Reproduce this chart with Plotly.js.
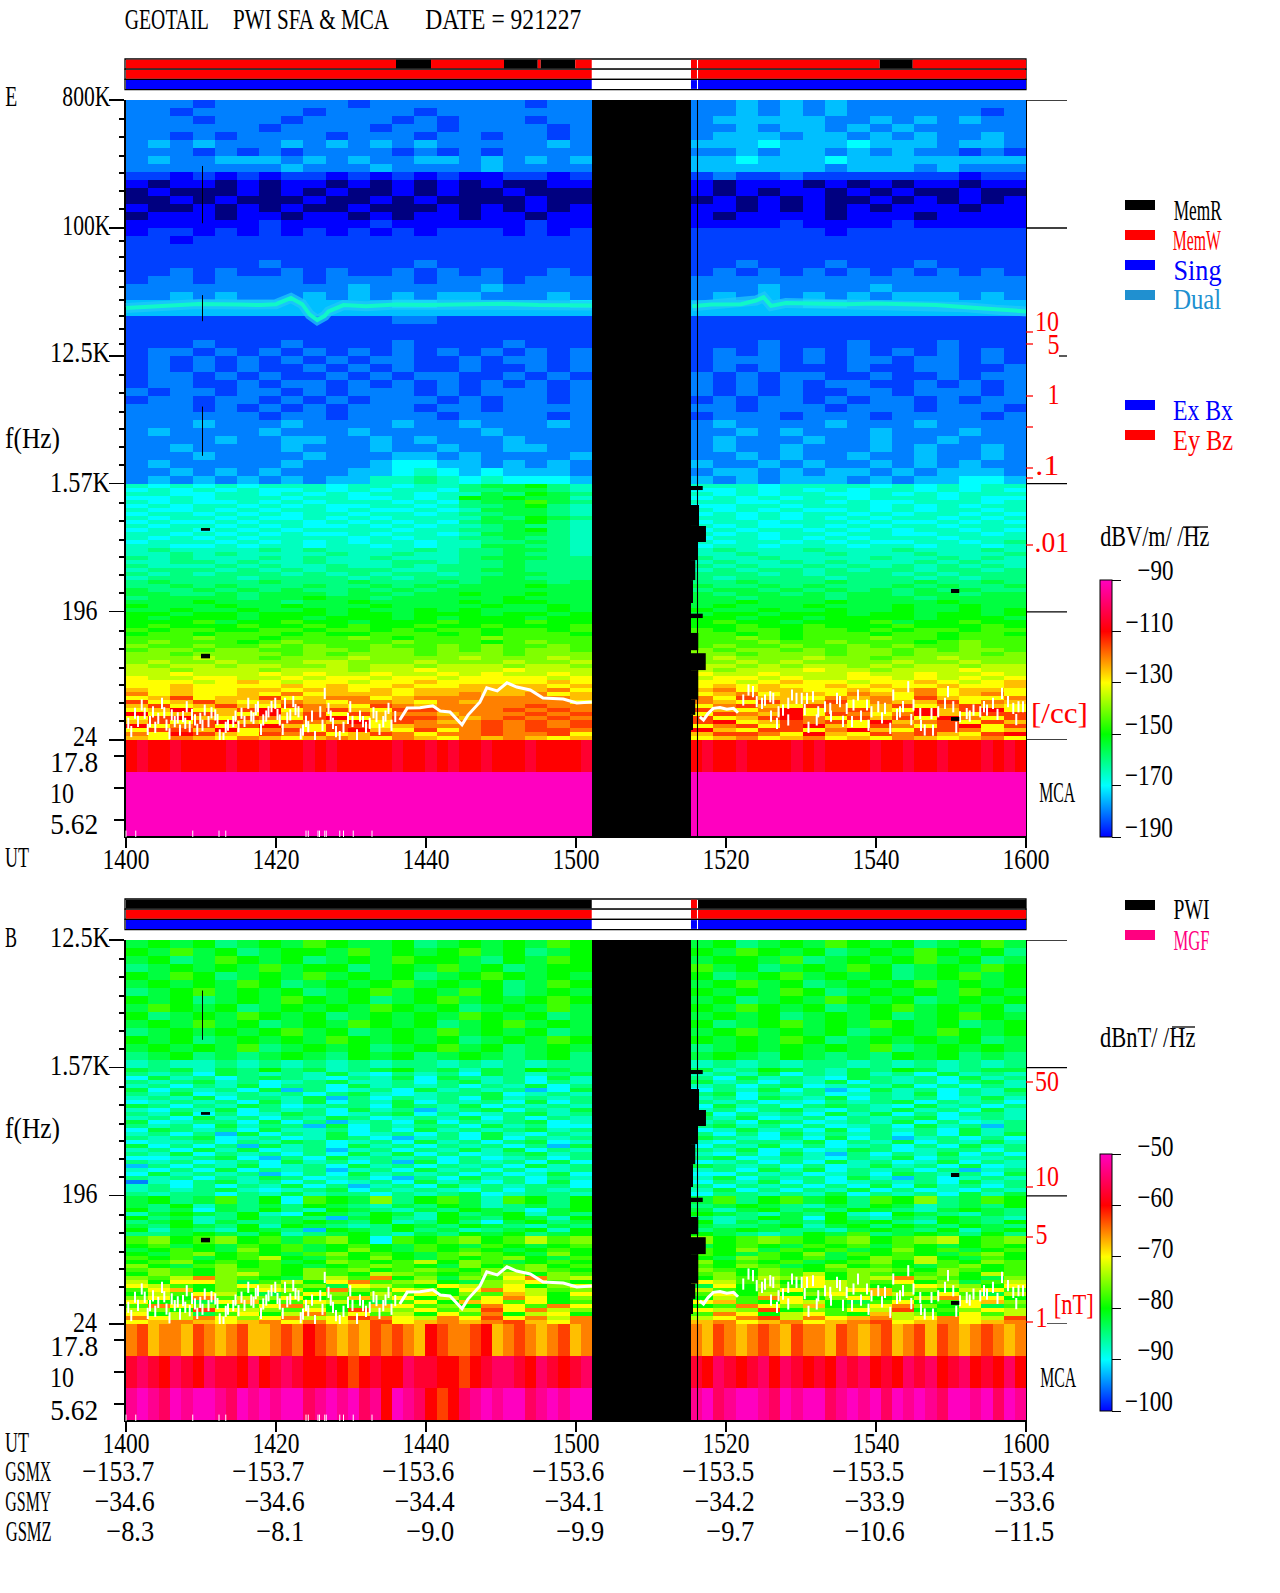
<!DOCTYPE html>
<html><head><meta charset="utf-8">
<script src="https://cdn.plot.ly/plotly-3.0.1.min.js"></script>
<style>html,body{margin:0;padding:0;background:#fff}#c{width:1280px;height:1593px}</style></head>
<body><div id="c"></div>
<script>
// ---------- DATA (single characters are colour levels) ----------
const timeLabels=['1400','1420','1440','1500','1520','1540','1600'];
const timeVals=[0,20,40,60,80,100,120];
const gsmx=['-153.7','-153.7','-153.6','-153.6','-153.5','-153.5','-153.4'];
const gsmy=['-34.6','-34.6','-34.4','-34.1','-34.2','-33.9','-33.6'];
const gsmz=['-8.3','-8.1','-9.0','-9.9','-9.7','-10.6','-11.5'];
const freqTicksE=[800000,100000,12500,1570,196,24.41];
const freqTicksB=[12500,1570,196,24.41];
const mcaTicks=[17.8,10,5.62];
const mcaEdges=[4.22,7.5,13.34,23.7];
const gapStart=62.1, gapEnd=75.33;
const barE1=[[0,36,'r'],[36,40.67,'k'],[40.67,50.4,'r'],[50.4,54.9,'k'],[54.9,55.3,'r'],[55.3,59.9,'k'],[59.9,62.1,'r'],[75.33,76.13,'r'],[76.27,100.5,'r'],[100.5,104.9,'k'],[104.9,120,'r']];
const barE2=[[0,62.1,'r'],[75.33,76.13,'r'],[76.27,120,'r']];
const barE3=[[0,62.1,'b'],[75.33,76.13,'b'],[76.27,120,'b']];
const barB1=[[0,62.1,'k'],[75.33,76.13,'r'],[76.27,120,'k']];
// emission band (min, Hz)
const lineT=[0,4,9.7,15,18,20,22,23.5,24.5,25.5,26.5,27,29,32,36,40,45,50,55,62.1,75.5,78,82,84,85,86,88,92,96,100,104,108,112,116,120];
const lineF=[27300,28000,29100,28800,28600,29000,32100,29000,24500,22400,24000,25800,28600,28000,28800,28600,28800,29200,28600,28400,28000,28800,29000,30800,32500,28200,29600,29300,29000,29300,29000,28600,27600,26500,25800];
const lineSplit=20;
// white gyro-frequency trace (min, Hz)
const fceAT=[0.3,0.7,1.2,1.6,2.1,2.5,2.9,3.2,3.6,3.9,4.3,4.8,5.1,5.4,5.8,6.1,6.5,6.9,7.2,7.6,7.9,8.1,8.5,8.8,9.2,9.5,9.9,10.2,10.5,11,11.4,11.9,12.2,12.5,13,13.3,13.6,14.3,14.6,15,15.4,15.8,16.3,16.7,17,17.3,17.6,18,18.3,18.7,19,19.4,19.9,20.2,20.5,20.9,21.2,21.5,21.9,22.3,22.6,23,23.3,23.6,24,24.3,24.8,25.2,25.9,26.2,26.5,27,27.3,27.6,28,28.5,29,29.6,29.9,30.2,30.8,31.2,31.6,32,32.5,33,33.4,33.8,34.3,34.6,35,35.4,35.9];
const fceAF=[32,28,37.7,33,43.1,37.7,29,32.9,38.6,30,34.7,44.3,38,31.1,27,36.7,32.9,35,28.7,35.7,32,41.9,30.3,37,33.8,29,34.7,31,39.7,32.9,38,36.7,34,26.5,25.1,30,31.1,32.9,36,30.3,37.7,33,44.3,36,34.7,40,41.9,29,33.8,36,38.6,42,44.3,37,33.8,29,44.3,35,36.7,45.6,40,38.6,27,28.7,33,30.3,36,25.8,38.6,31,52,40.8,36,32,28,25.8,30,34.7,41.9,33,26.5,36,32.9,30,32,38,35.7,29,32.9,36,40.8,31,35.7];
const fceBT=[36.5,37.5,39.2,40.9,41.9,43.2,44.8,45.6,47.2,48.1,49.5,50.8,52.1,53.9,55.6,58.3,60.1,62.1];
const fceBF=[33.8,41,41.3,42.5,39.1,38.5,31.2,36.6,45.3,56.9,54.2,61.8,57.7,55,48.2,47.5,44.6,45.3];
const fceCT=[76.5,77,77.6,78.3,79.2,80.1,81,81.6];
const fceCF=[35.6,33.8,37.5,40.8,41.4,40.2,40.8,38];
const fceDT=[82.3,83,83.6,84.1,84.8,85.2,85.9,86,86.3,86.8,87,87.6,88.3,88.3,88.8,89.4,90.1,90.5,90.8,91,91.6,92.1,92.3,93.2,93.9,94,94.8,95.2,95.6,96.1,96.8,97,97.6,98,98.8,99,99.4,100.3,100.8,101.2,101.9,102.3,102.8,103.2,103.6,104.3,104.7,105,105.9,106,106.5,107.4,107.6,108.3,109.2,109.6,110.3,110.7,111.2,112.1,112.5,113,113.9,114.4,114.8,115.6,116.2,116.8,117.6,118.3,118.7,119,119.6];
const fceDF=[46.7,55,53.5,45.5,44.3,46.7,49.3,36,48,32,38.6,39.7,44.3,33.8,50.7,48,48,40,48,30,49.3,33.8,38.6,41.9,40.8,36,48,45.5,33,40.8,32.9,43.1,50.7,36,43.1,31,38.6,41.9,35,40.8,29.5,50.7,37,38.6,42,58,34,43.1,37.5,31,28.7,37.5,28.7,38.6,44.3,53.5,41.9,30,35.6,37.5,36,39.7,38.6,42,39.7,44.3,37,52,45.5,40.8,34,41.9,41.9];
const tickMarksT=[0,1.3,8.9,12.4,13.3,24,24.3,25.6,25.8,26.5,26.7,28.5,29,30.3,32.8];
// data gaps: [minute from, minute to, Hz high, Hz low]
const gapSteps=[[75.33,76.9,1512,1416],[75.33,76.4,1111,790],[75.33,77.33,790,609],[75.33,76.2,609,454],[75.33,75.9,454,328],[75.33,75.6,328,226],[75.33,76.9,190,177],[75.33,76.3,139,105],[75.33,77.3,100,76],[75.33,76.3,76,47],[75.33,75.9,47,36.7],[75.33,75.6,36.7,28.7]];
const dropouts=[[10,11.2,764,730],[10,11.2,99,92],[110,111.1,284,266],[110,111.1,35.5,33.3],[10.13,10.27,274000,108000],[10.13,10.27,33600,22000],[10.13,10.27,5500,2470]];
// E field spectrogram, top row first: 48 rows of the upper range, 64 rows below 1.57 kHz
const eHigh=[
'444344444434444444344|445454544444444','443444443444434444444|445454544444434','444344434444343444344|455555445454544','444444344443443444434|445455454544444',
'443434444344434434434|455545545454454','454544454545454444454|555655565554554','444343434444343434444|445455454544343','454455545454455454545|556555655555555',
'444444454445444454444|555555455545444','332323233232323223323|343343333333233','212212122121212121122|212221212122122','121112121211212112111|212122121211211',
'112121112112121111211|121212112121212','211212121121112121212|221212121222122','122212212212122122122|212222122212222','222222322223222222322|222232222322222',
'233232323232323332323|333333233333333','332333333333333333333|333333333333333','333333333333333333333|333333333333333','333333333333333333333|333333333333333',
'333333433333343333333|334333433343333','334343343433434343343|343434343434343','344344443444434443444|444444444444444','444444444454444454444|444544445444444',
'445454445454545544454|454545454555454','555555555555665555556|555556655555555','555555555555555555555|555555555555555','333333333333443333333|333333333333333',
'333333333333333333333|333333333333333','333333333333333333333|333333333333333','333433343333433334333|333433343334333','344343434343434343434|343434343434343',
'343434343434433434434|344434344344343','343434334343433433434|343433343344334','344343433434344334343|434344334334344','344334344343434343434|434343443343434',
'434434434344434344434|434343344344434','344344343434443434434|343443434434344','444343434344434434444|443444344434443','444444344344443444434|344434443444434',
'444544454444544544454|454444544454444','454444544454444454444|445454445444544','444454455445454445444|454445445445444','445444454445445445544|454454445454454',
'444544445444554544445|445454454454454','454444454445665545454|544545445454544','445454544455676565554|455454554545554','454545454557787676665|545455545455665'];
const eLow=[
'767676777677677899A87|777677776767677','676767667676776889987|667676767767676','776677676767767798A98|767677667676777','667677767766767A9A997|676767767776766',
'767667676777676899B98|776677676677767','676776767667767889A87|667767776767677','766767677676676799987|767676676767767','677676767767767889987|676767767677676',
'767767667676777798A98|776767676776767','676676776767676899A87|677677767667676','767767676676767789887|767667676776777','677676767777677889A87|676776767677676',
'776767676676776799987|767677677667767','767676777767677889887|677676767776777','677767676767767788987|767767676677678','776676776776767799887|677677767767767',
'787777878777787889987|787778777877787','778787777877877889887|778777877787778','878777878778777899988|877877778778787','778878778777887889888|787787877787877',
'877787877877878889888|878778787878787','788878787888778899888|787887878878878','878788878787887889988|888787888787888','788887888878788899888|878888788878788',
'898888988898889899989|889888988898898','889898889889898999A99|988989888989889','988989898898989999999|899898989898988','998898999899899A99A99|989989899899899',
'89999899A99899999A999|998999899989999','999A999899A9999A9AA99|99A999A9999A999','A999A99A999A9999A99A9|9A999A999A99A99','99A99A99A9A99A9A999A9|A99A99A99A99A9A',
'AA9AA9AAA9AA9AAA9AA9A|9AA9AAA9AA9AA9A','A9AAA9AA9AAA9A9AAA9AA|AA9AA9AAAA9AAA9','AAAB9AABAA9AAABAAABAA|ABAA9AAAB9AABAA','ABAAABAABABAABAABAAAB|AABAABAAABAAABA',
'BABBAABBABBABABBABBAB|BABBABBABABBABB','ABBABBBABAABBBABABBBA|BBABABBBABBABBA','BBBCBBABBBCBABBBCBBBB|BBCBABBBCBBABBB','BCBBBABCBBBBCBBBABCBB|BBBCBBCBBBABCBB',
'CBBCBBCBCBBCBBCBCBBCB|BCBBCBBCBCBBCBB','BCCBCCBBCCBCCBCBCBCCB|CBCCBCBCCBCBCCB','CCBCCCCBCBCCCBCCCBCCC|CCBCCCBCCBCCCBC','CCCDCCBCCCDCCCCDCCCDC|CDCCCDCCBCCDCCC',
'CDCCDCCCDDCCCDCCCDCCD|CCDCDCCCCDCCDCC','DCDDCDDCCDCDDCDDDCDDC|DDCDCDDCDCDDCDD','DDCDDDCDDDCDDEDDDEDDD|DCDDDEDDCDDDEDD','DDEDDDEDEDDEDDEDEDDED|EDDEDDDEDDEDDED',
'EDDEEDDEDEEDEEDEEEEDE|DEEDEDDEEDEDEDE','EEEDEFEDEEDEEFEEEEEFE|EEDEFEEDEEFEDEF','EEFEEEEFEFEEFEEFFFFEF|EFEFEEFEFEEFEEF','FEFEEFFEFFEFEFFFFFFGE|FGEFFEEFEFGEFFE',
'GEFEEFEGEFFFEFFGFFGEF|EFGEFFEGFEGEFGE','EFHEFFHEFGGEFGGGGGGGF|GEHFFEGFGEHFEEG','HEFHFEFGFEGGFEGFGGGGE|GFEHFFHEGFFHEGF','FHEFHFEHGFEHGFGGGGHGG|EGHFEHGEFHEGHFE',
'EFIEFHIEGHFEHHGGGHGHG|HFEGIEGHFEIFHIE','IEFHFEIFHEHFGGFGGGHGH|EHGFIEHGEGIFEHH','EHIFEHGEHIEFHHGFGHGHG|HEFHIGEHFHEIGEH','FHEHIFEHGFIEHGFGHGHGH|HIEFHGHEIFGHEHF',
'IEGHEHIFEHHEFGGGHGHGH|EGHEHIFEHGEHIEH','EHHFIEGHEHIFEHEGHGHHG|IFEHHEGIFEHHGEF','GEIHFEHGHEFHGEGGHGGHE|FHHGEIFEHGHFEHI','FEGFEGFEFGFEGFEGFGFEF|EFGEFGEFEGFEFGE'];
// B field spectrogram: 16 rows above 1.57 kHz, 64 rows below
const bHigh=[
'9A9A89A9BA99A89A9A9BA|9A89A9BA9A89AB9','A9B9A89AA9B9A9AB9A89A|A9BA9A89A9BA9A8','9A89BA9A89A9BAA98A9BA|9AA9B89A9AB9A89','89A9A9B9AA89A9B9A89AA|B9A89A9BA89A9BA',
'A9BA89A9B9A9A89ABA9A9|A89AB9A9A89AB9A','9A9A9BA89A9AB9A9A89BA|9AB9A89A9AB9A9A','89AB9A9A89AB9A9BA89A9|A9A9BA89A9A9BA9','A9A89A9BA9A89AB9A9ABA|9A89A9BA9A89A9A',
'9BA9A89A9A9BA9A89A9B9|A9BA9A89AB9A9A8','A89A9BA9A89A9A9BA9A89|9A9A89A9A89ABA9','9A9B9A89A9BA9A89AB9A9|A89AB9A9BA9A89A','89A9A9AB9A89A9B9A9A89|9AB9A9A89A9BA9A',
'A9A89A9A9BA9A9A89A9BA|A9A9BA89A9A9A89','9A9A9B89A9A89AB9A89A9|89A9A9A9B89A9A9','89A8989A98A9A89A989A8|9A98A9898A9A898','787787878787887878788|787878878787878'];
const bLow=[
'989798A89789A89798A98|978A98798A97899','878698787976878698789|787968797869787','697868987687969878697|869787698786978','878978678977868978687|978687968786897',
'786879688697878687968|786896787968687','968786958678697878569|687968569786879','879678786897678896787|896878678796878','787968879586878697878|786987968786797',
'678786979687968786968|878676878968786','986879867886987968787|697868987697868','768796878697857896879|786897687978697','879686798678968678978|968786979686887',
'786978687986787968687|879678687896787','967886968578696878967|786986787968678','878697885968788697866|897868678697858','698786977868697878978|679786968786978',
'786859687967868697687|868697878686979','878967867986578696878|987686968578686','677868798678697868967|768879687968797','968685978697868786859|687968678686978',
'786979678578687979687|879686798678868','879687868697968678978|768697586879686','667896586978786867868|896787687968778','878678697868596878696|678686978679687',
'586879678697868786978|987868679786967','768696878578697868678|786979687868578','697878568697878686796|668786786987869','878687986786586978687|796878697586787',
'476897868678697868696|687968678786978','786868796857869787886|868786869697868','787897678968787686878|796868796867687','878868797886878967887|688787968786979',
'9A89B8A6BA9C8AB97BA8A|9B8AB9A8BAC89BA','9A89B8A6BA9C8AB97BA8A|9B8AB9A8BAC89BA','98A79898A98798A97898A|89A98798A97898A','A89698A87A98798A9869A|979A898A9879A98',
'79A98A76A98A97A89A798|A98798A76A98798','A8978A89859A87A98A97A|878A96A8798A987','89A79889A98A78A869A89|A79898A9A87A98A','98A98A7A9878A98A98798|9889A79A8A98A98',
'A7987A985A98A89789A7A|89A98879A98A79A','889A98A789A8798A9A89A|A9878A9B89A98A8','BCABCAB9BCA6BABCABDBC|CABCBABCABCDABC','BCABCAB9BCA6BABCABDBC|CABCBABCABCDABC',
'AB9A9BAB9ABA9BA9BA9AB|9ABA9BAB9BA9ABA','9ABA9CAB9ACA9BABA9ABA|BAC9BAB9ACAB9AB','A9BCABA9BCABA9BCBA9CA|BA9BAC9BABA9BCA','BAB9ABDA9BACA9BABCA9B|A9CBAB9ACBDA9BA',
'ABCABAB9ACBABDACB9ABA|CABAB9ABCADBACB','CA9BCABA9ABCBA9CABCAB|BACB9ACABA9BCAB','BCBACBBACBCABCBACBCBA|CBACBABCCBACBAB','ACBACDBACBADCBABCDACB|BCACBDACBABCADB',
'CBDGCBA9CDBGAC9CBEGCD|ACBDCEACDGCBA9C','DAEEC9BDAEGBCDA9CDEBA|EDBCAEDCBEAC9BD','EDBACEDBC9EDBAEDCEACE|9EADBEDCABEDCAE','BEFACBEDAGCBEDAEGEDBC|DBACEBDEFBCADEB',
'ADBEDA9BECADBEACBFDAE|BEADACEBFDAEB9D','CEAGBDCEABFCEADBEGEAC|ADBGEACEABDGCEA','EAB9EFABEDA9BEAFEBEAB|EFBAEDA9BEABEFC','BGECABEGCABFEBCAGEBGE|ABGECFABEGCAE9B',
'DCAHEDCBEAHDCEBDHEGDC|EDCHACBEDHABCED','EAD9BEADGCEBDAEBGADEA|BGEADEBAFDCAEBD','GEDGECEGDEHGEDGEHEGDG|DEGHDGEFGDEGEDH','EFGFEFGEGEFHEFGFGHFEG|FGEFGEFGHEFGEFG'];
// MCA channels, 5.62 Hz row first
const eMca=['MMMMMMMMMMMMMMMMMMMMMMMMMMMMMMMMMMMMMMMMMM|MMMMMMMMMMMMMMMMMMMMMMMMMMMMMM','MMMMMMMMMMMMMMMMMMMMMMMMMMMMMMMMMMMMMMMMMM|MMMMMMMMMMMMMMMMMMMMMMMMMMMMMM','IJIIJIIIIJIIJIIIJIJIIIIIJIIJIJIIJIIIJIIIIJ|IJIIJIIIIJIJIIIIJIIJIIJIIIJIJI'];
const bMca=['LMLKMLMMLKMLMLMMKLMLMKLIMLKIHIKLMLMMKLMLMM|LMKLMMLKMLMMKLMLMKMLMLKMMLMKML','JKJIKJIKJJIKIJKJIIJIHIJIIKJJIIHIJKKJIKJIJK|JIKJIJKIKJIJIKJKIJIKJKIJKIJIKI','GHFGGFHGFGHFFGHGIHGFGFHGHGFIHGGHIFGHGFGHFG|GFHGFGHGFHGGFHGFGHFGHFHGFGHGFG'];
// scale labels
const cbarE=[-90,-110,-130,-150,-170,-190];
const cbarB=[-50,-60,-70,-80,-90,-100];
const freqLabelsE=['800K','100K','12.5K','1.57K','196','24','17.8','10','5.62'];
const freqLabelsB=['12.5K','1.57K','196','24','17.8','10','5.62'];
const densityLabels=['10','5','1','.1','.01'];
const fieldLabels=['50','10','5','1'];

// ---------- LAYOUT HELPERS ----------
const W=1280,H=1593, PX=x=>x/W, PY=y=>1-y/H;
const SERIF='Liberation Serif';
const RED='#ff0000',BLUE='#0000ff',BLK='#000000';
const FILL={r:RED,k:BLK,b:BLUE};
const scale=[[0,'#000000'],[0.0909,'#0000ff'],[0.2727,'#00ffff'],[0.4545,'#00ff00'],[0.6364,'#ffff00'],[0.8182,'#ff0000'],[1,'#ff00c0']];
const cbScale=[[0,'#0000ff'],[0.2,'#00ffff'],[0.4,'#00ff00'],[0.6,'#ffff00'],[0.8,'#ff0000'],[1,'#ff00c0']];
const LEVELS='0123456789ABCDEFGHIJKLM';
const decode=(rows,base,step,splitAt)=>rows.map(r=>{
  const [a,b]=r.split('|');const n=(s,k)=>{const o=[];for(let i=0;i<k;i++){const c=s[Math.min(i,s.length-1)];o.push(base+LEVELS.indexOf(c)*step)}return o};
  return n(a,splitAt[0]).concat([null],n(b,splitAt[1]));
});
const colEdges=(n0,n1)=>{const e=[];for(let i=0;i<=n0;i++)e.push(gapStart*i/n0);for(let i=0;i<=n1;i++)e.push(gapEnd+(120-gapEnd)*i/n1);return e};
const freqAt=(top,h)=>top/Math.pow(8,h/128);
function rowEdges(top,heights){let e=[top],c=0;for(const h of heights){c+=h;e.push(freqAt(top,c))}return e}
const rep=(n,h)=>Array(n).fill(h);
const shapes=[],annos=[],annoCell=[];
function lab(t,left,yc,color,cell){cell=cell||12;const n=t.length;annos.push({x:PX(left+n*cell/2),y:PY(yc-2),xref:'paper',yref:'paper',text:t,showarrow:false,xanchor:'center',yanchor:'middle',font:{family:SERIF,size:30,color:color||BLK}});annoCell.push(cell)}
function labR(t,right,yc,color,cell){lab(t,right-t.length*(cell||12),yc,color,cell)}
function rectPx(x0,x1,y0,y1,c,lw){shapes.push({type:'rect',xref:'paper',yref:'paper',x0:PX(x0),x1:PX(x1),y0:PY(y0),y1:PY(y1),fillcolor:c,line:{width:lw||0,color:BLK},layer:'above'})}
function linePx(x0,x1,y0,y1,c,w){shapes.push({type:'line',xref:'paper',yref:'paper',x0:PX(x0),x1:PX(x1),y0:PY(y0),y1:PY(y1),line:{color:c||BLK,width:w||1.3},layer:'above'})}
function bars(top,rows,xr){rows.forEach((segs,i)=>{const y0=top+i*10.2,y1=y0+10.2;rectPx(125,1026,y0,y1,'#ffffff',1.3);
  segs.forEach(s=>shapes.push({type:'rect',xref:xr,yref:'paper',x0:s[0],x1:s[1],y0:PY(y0+.7),y1:PY(y1-.7),fillcolor:FILL[s[2]],line:{width:0},layer:'above'}))})}
bars(59,[barE1,barE2,barE3],'x');bars(899,[barB1,barE2,barE3],'x2');

const minorOff=[[19,37,56,73,91,109],[13,29,43,59,72,88,101,116],[19,37,56,73,91,109],[19,37,56,73,91,109],[19,37,56,73,91,109]];
const minorE=[],minorB=[];
minorOff.forEach((o,b)=>o.forEach(h=>minorE.push(freqAt(800000,b*128+h))));
minorOff.slice(2).forEach((o,b)=>o.forEach(h=>minorB.push(freqAt(12500,b*128+h))));

// long black marks to the right of both panels
[[800000,1026],[100000,1026],[12500,1059],[1570,1026],[196,1026],[24.41,1026]].forEach(m=>shapes.push({type:'line',xref:'paper',yref:'y',x0:PX(m[1]),x1:PX(1067),y0:m[0],y1:m[0],line:{color:BLK,width:1.3},layer:'above'}));
[[12500,1026],[1570,1026],[196,1026],[24.41,1047]].forEach(m=>shapes.push({type:'line',xref:'paper',yref:'y3',x0:PX(m[1]),x1:PX(1067),y0:m[0],y1:m[0],line:{color:BLK,width:1.3},layer:'above'}));
// data gaps
function gapRects(list,xr,yr,maxF){list.forEach(g=>{if(g[2]>maxF)return;shapes.push({type:'rect',xref:xr,yref:yr,x0:g[0],x1:g[1],y0:g[2],y1:g[3],fillcolor:BLK,line:{width:0},layer:'above'})})}
gapRects(gapSteps.concat(dropouts),'x','y',1e9);gapRects(gapSteps.concat(dropouts),'x2','y3',12500);
[['x',100,837],['x2',940,1421]].forEach(a=>shapes.push({type:'rect',xref:a[0],yref:'paper',x0:76.13,x1:76.27,y0:PY(a[1]),y1:PY(a[2]),fillcolor:BLK,line:{width:0},layer:'above'}));

// red secondary scale ticks
[332,344,396,427,468,478,545].forEach(y=>linePx(1026,1033,y,y,RED));
[1082,1187,1237,1322].forEach(y=>linePx(1026,1033,y,y,RED));
lab(densityLabels[0],1035,322,RED);lab(densityLabels[1],1047,345,RED);lab(densityLabels[2],1047,395,RED);lab(densityLabels[3],1035,467,RED);lab(densityLabels[4],1035,543,RED,11.5);
lab('[/cc]',1031,714,RED,11.4);
lab(fieldLabels[0],1035,1082,RED);lab(fieldLabels[1],1035,1177,RED);lab(fieldLabels[2],1035,1235,RED);lab(fieldLabels[3],1035,1318,RED);
lab('[nT]',1053,1305,RED,10);
lab('MCA',1039,793,BLK);lab('MCA',1040,1378,BLK);

// text
lab('GEOTAIL',125,20);lab('PWI SFA & MCA'.replace(/ /g,'\u00a0'),233,20);lab('DATE = 921227'.replace(/ /g,'\u00a0'),425,20);
lab('E',5,98);lab('f(Hz)',5,440,BLK,11);lab('UT',5,859);
lab('B',5,938);lab('f(Hz)',5,1130,BLK,11);lab('UT',5,1443);
lab('GSMX',5,1472,BLK,11.5);lab('GSMY',5,1502,BLK,11.5);lab('GSMZ',5,1532,BLK,11.5);
[[62,98],[62,226],[50,354],[50,483],[61,611],[73,738],[50,763],[50,794],[50,826]].forEach((p,i)=>lab(freqLabelsE[i],p[0],p[1]));
[[50,938],[50,1066],[61,1194],[73,1323],[50,1347],[50,1378],[50,1411]].forEach((p,i)=>lab(freqLabelsB[i],p[0],p[1]));
timeLabels.forEach((t,i)=>{const r=154+150*i;[[gsmx,1472],[gsmy,1502],[gsmz,1532]].forEach(a=>labR(a[0][i].replace('-','\u2212'),r,a[1]))});
cbarE.forEach((v,i)=>labR(String(v).replace('-','\u2212'),1173,572+i*51.2));
cbarB.forEach((v,i)=>labR(String(v).replace('-','\u2212'),1173,1147+i*51));
lab('dBV/m/\u00a0/Hz',1100,538,BLK,10.9);linePx(1183,1208,527,527);
lab('dBnT/\u00a0/Hz',1100,1038,BLK,10.6);linePx(1172,1195,1027,1027);
// legends
[['MemR',BLK,200],['MemW',RED,230],['Sing',BLUE,260],['Dual','#2090d0',290],['Ex\u00a0Bx',BLUE,400],['Ey\u00a0Bz',RED,430],['PWI',BLK,900],['MGF','#ff0080',930]].forEach(l=>{rectPx(1125,1155,l[2],l[2]+10,l[1]);lab(l[0],1173,l[2]+11,l[1])});

// ---------- TRACES ----------
const xE=colEdges(21,15), xM=colEdges(42,30);
const eZ=decode(eHigh.concat(eLow),-200,5,[21,15]).reverse();
const bZ=decode(bHigh.concat(bLow),-105,2.5,[21,15]).reverse();
const eY=rowEdges(800000,rep(48,8).concat(rep(64,4))).reverse();
const bY=rowEdges(12500,rep(16,8).concat(rep(64,4))).reverse();
const hm=(z,x,y,xa,ya,zmin,zmax)=>({type:'heatmap',z,x,y,xaxis:xa,yaxis:ya,zmin,zmax,zauto:false,colorscale:scale,showscale:false,hoverongaps:false,xgap:0,ygap:0});
const scat=(x,y,xa,ya,extra)=>Object.assign({type:'scatter',x,y,xaxis:xa,yaxis:ya,showlegend:false},extra);
const mk={mode:'markers',marker:{symbol:'line-ns',size:8,line:{color:'#fff',width:2}}};
const ln={mode:'lines',line:{color:'#fff',width:3}};
function cbarTrace(xa,ya,vals,top){const lo=vals[vals.length-1],hi=vals[0];return {type:'heatmap',z:[[lo,hi]],x:[-1000,-999,-998],y:[1,2],xaxis:xa,yaxis:ya,zmin:lo,zmax:hi,zauto:false,colorscale:cbScale,showscale:true,
  colorbar:{x:PX(1100),xanchor:'left',xpad:0,ypad:0,y:PY(top),yanchor:'top',len:257,lenmode:'pixels',thickness:12,thicknessmode:'pixels',tickmode:'array',tickvals:vals,ticks:'outside',ticklen:9,tickcolor:BLK,showticklabels:false,outlinecolor:BLK,outlinewidth:1}}}
const traces=[
 hm(eZ,xE,eY,'x','y',-200,-90),
 hm(decode(eMca,-200,5,[42,30]),xM,mcaEdges,'x','y2',-200,-90),
 hm(bZ,xE,bY,'x2','y3',-105,-50),
 hm(decode(bMca,-105,2.5,[42,30]),xM,mcaEdges,'x2','y4',-105,-50),
 cbarTrace('x','y2',cbarE,580),
 cbarTrace('x2','y4',cbarB,1154),
 scat(lineT.slice(0,lineSplit),lineF.slice(0,lineSplit),'x','y',{mode:'lines',line:{color:'#20c8f8',width:10},opacity:.75}),
 scat(lineT.slice(lineSplit),lineF.slice(lineSplit),'x','y',{mode:'lines',line:{color:'#20c8f8',width:10},opacity:.75}),
 scat(lineT.slice(0,lineSplit),lineF.slice(0,lineSplit),'x','y',{mode:'lines',line:{color:'#10f8c8',width:4}}),
 scat(lineT.slice(lineSplit),lineF.slice(lineSplit),'x','y',{mode:'lines',line:{color:'#10f8c8',width:4}}),
];
[['x','y'],['x2','y3']].forEach(a=>{traces.push(scat(fceAT,fceAF,a[0],a[1],mk),scat(fceBT,fceBF,a[0],a[1],ln),scat(fceCT,fceCF,a[0],a[1],ln),scat(fceDT,fceDF,a[0],a[1],mk))});
[['x','y2'],['x2','y4']].forEach(a=>traces.push(scat(tickMarksT,tickMarksT.map(()=>4.2),a[0],a[1],{mode:'markers',marker:{symbol:'line-ns',size:8,line:{color:'#fff',width:1}}})));

const xDom=[PX(125),PX(1026)];
const xAx=anchor=>({domain:xDom,range:[-0.133,120],anchor,showgrid:false,zeroline:false,showline:true,linecolor:BLK,linewidth:1.3,ticks:'outside',ticklen:10,tickcolor:BLK,tickwidth:1.3,tickmode:'array',tickvals:timeVals,ticktext:timeLabels,tickfont:{family:SERIF,size:30,color:BLK},ticklabelstandoff:-15});
const yAx=(top,bot,range,tv,anchor,minor)=>({domain:[PY(bot),PY(top)],type:'log',range,anchor,showgrid:false,zeroline:false,showline:true,mirror:true,linecolor:BLK,linewidth:1.3,ticks:'outside',ticklen:15,tickcolor:BLK,tickwidth:1.3,tickmode:'array',tickvals:tv,showticklabels:false,
  minor:minor?{tickmode:'array',tickvals:minor,ticks:'outside',ticklen:5,tickcolor:BLK,tickwidth:1.3,showgrid:false}:undefined});
const mcaRange=[Math.log10(4.14),Math.log10(23.7)];
const layout={width:W,height:H,margin:{l:0,r:0,t:0,b:0},paper_bgcolor:'#fff',plot_bgcolor:'#000',showlegend:false,hovermode:false,
 xaxis:xAx('y2'),xaxis2:xAx('y4'),
 yaxis:yAx(100,740,[Math.log10(24.41),Math.log10(800000)],freqTicksE,'x',minorE),
 yaxis2:Object.assign(yAx(740,837,mcaRange,mcaTicks,'x'),{ticklen:10}),
 yaxis3:yAx(940,1324,[Math.log10(24.41),Math.log10(12500)],freqTicksB,'x2',minorB),
 yaxis4:Object.assign(yAx(1324,1421,mcaRange,mcaTicks,'x2'),{ticklen:10}),
 shapes,annotations:annos};
Plotly.newPlot('c',traces,layout,{staticPlot:true,displayModeBar:false}).then(()=>{
  document.querySelectorAll('.annotation-text').forEach((t,i)=>{t.setAttribute('textLength',(t.textContent.length*annoCell[i]).toFixed(1));t.setAttribute('lengthAdjust','spacingAndGlyphs')});
  document.querySelectorAll('.xtick text, .x2tick text').forEach(t=>{t.setAttribute('textLength','47');t.setAttribute('lengthAdjust','spacingAndGlyphs')});
});
</script></body></html>
